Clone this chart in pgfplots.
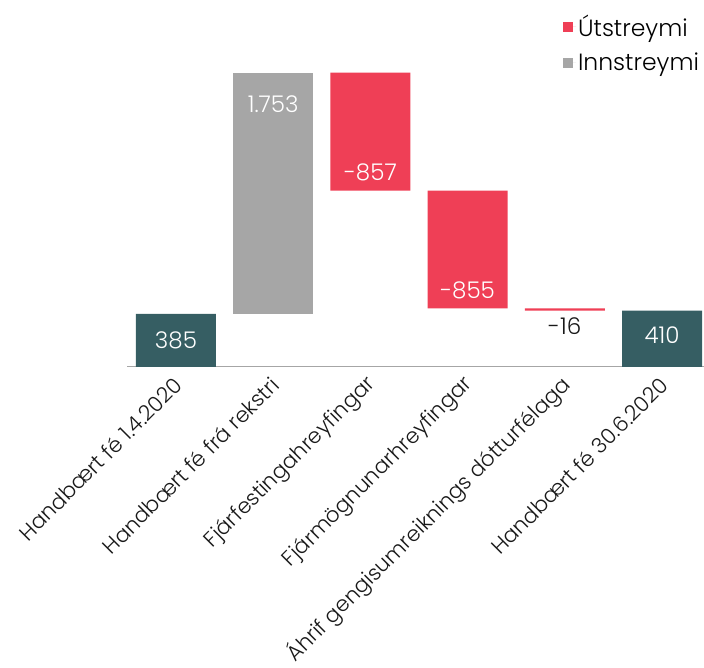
\documentclass[border=0pt]{standalone}
\usepackage{fontspec}
\setmainfont{Poppins}[UprightFont=* Light]
\usepackage{pgfplots}
\pgfplotsset{compat=1.18}
\definecolor{teal1}{HTML}{365E63}
\definecolor{gray1}{HTML}{A6A6A6}
\definecolor{red1}{HTML}{EF3F56}
\begin{document}
\begin{tikzpicture}[x=1pt,y=1pt]
\useasboundingbox (0,0) rectangle (704,668);
\begin{axis}[
 at={(127pt,301pt)}, anchor=south west,
 scale only axis, width=577pt, height=367pt,
 ybar stacked, bar width=80pt,
 xmin=-0.504, xmax=5.432, ymin=0, ymax=2665,
 axis y line=none, axis x line*=bottom,
 x axis line style={draw=gray!70, line width=1pt, -},
 xtick={0,1,2,3,4,5}, major tick length=0,
 xticklabels={Handbært fé 1.4.2020, Handbært fé frá rekstri, Fjárfestingahreyfingar, Fjármögnunarhreyfingar, Áhrif gengisumreiknings dótturfélaga, Handbært fé 30.6.2020},
 xticklabel style={xshift=2pt, yshift=-14pt, rotate=45, anchor=east, font=\fontsize{21.3}{26}\selectfont, inner sep=0pt, text=black!90},
 legend style={at={(0.995,0.965)}, anchor=north east, draw=none, fill=none, font=\fontsize{23.5}{28}\selectfont, cells={anchor=west}, row sep=11pt, inner sep=0pt},
 reverse legend,
 legend image code/.code={\fill[#1] (0pt,-5pt) rectangle (10pt,5pt); \path (0pt,0pt) -- (13pt,0pt);},
 clip=false,
]
\addplot[draw=none, fill=none, forget plot] coordinates {(0,0) (1,385) (2,1281) (3,426) (4,410) (5,0)};
\addplot[draw=none, fill=teal1, forget plot] coordinates {(0,385) (1,0) (2,0) (3,0) (4,0) (5,410)};
\addplot[draw=none, fill=gray1] coordinates {(0,0) (1,1753) (2,0) (3,0) (4,0) (5,0)};
\addplot[draw=none, fill=red1] coordinates {(0,0) (1,0) (2,857) (3,855) (4,16) (5,0)};
\legend{Innstreymi, Útstreymi}
\coordinate (l0) at (axis cs:0,196);
\coordinate (l1) at (axis cs:1,1910);
\coordinate (l2) at (axis cs:2,1416);
\coordinate (l3) at (axis cs:3,559);
\coordinate (l4) at (axis cs:4,298);
\coordinate (l5) at (axis cs:5,232);
\end{axis}
\begin{scope}[every node/.style={font=\fontsize{23}{27}\selectfont, text=white}]
\node at (l0) {385};
\node at (l1) {1.753};
\node at (l2) {-857};
\node at (l3) {-855};
\node[text=black!90] at (l4) {-16};
\node at (l5) {410};
\end{scope}
\end{tikzpicture}
\end{document}
